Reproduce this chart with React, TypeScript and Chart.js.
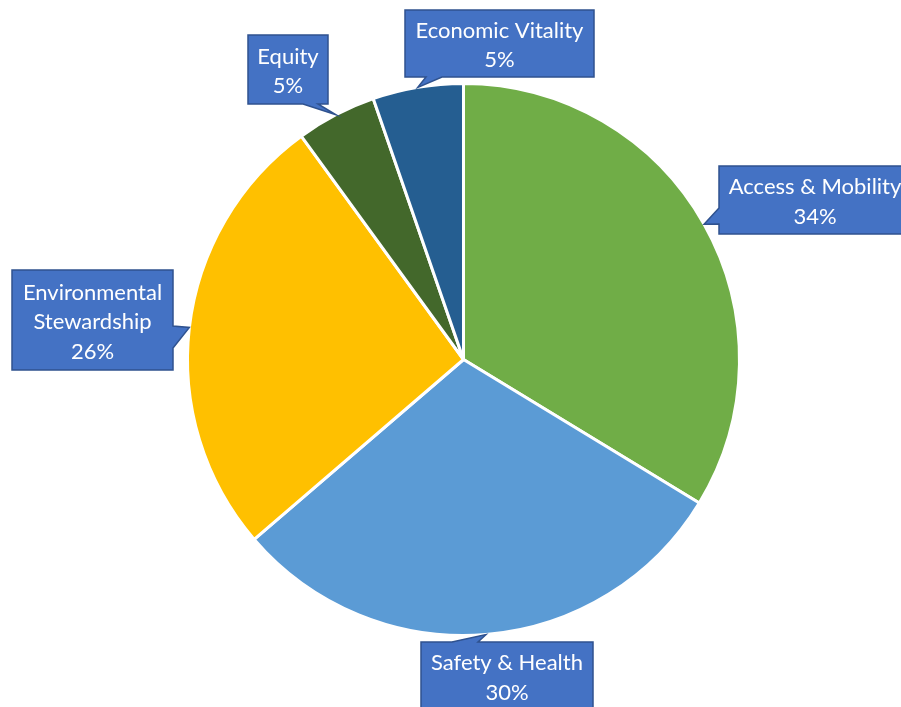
import React, { useEffect, useRef } from "react";
import { Chart, registerables } from "chart.js";

Chart.register(...registerables);

const categories = [
  "Access & Mobility",
  "Safety & Health",
  "Environmental Stewardship",
  "Equity",
  "Economic Vitality",
];
const shares = [33.7, 30.0, 26.3, 4.7, 5.3];
const sliceColors = ["#70AD47", "#5B9BD5", "#FFC000", "#43682B", "#255E91"];
const labelLines = [
  ["Access & Mobility"],
  ["Safety & Health"],
  ["Environmental", "Stewardship"],
  ["Equity"],
  ["Economic Vitality"],
];

// Callout layout: box [x, y, w, h] and pointer base on box edge [x1, y1, x2, y2]
const calloutBoxes = [
  [719, 166, 192, 68],
  [421, 642, 172, 68],
  [12, 270, 161, 100],
  [248, 35, 80, 69],
  [405, 10, 189, 67],
];
const pointerBases = [
  [719, 208, 719, 224],
  [452, 642, 478, 642],
  [173, 326, 173, 348],
  [303, 104, 318, 104],
  [426, 77, 442, 77],
];

const calloutPlugin = {
  id: "callouts",
  afterDatasetsDraw(chart: any) {
    const ctx = chart.ctx;
    const meta = chart.getDatasetMeta(0);
    meta.data.forEach((arc: any, i: number) => {
      const p = arc.getProps(["x", "y", "startAngle", "endAngle", "outerRadius"], true);
      const mid = (p.startAngle + p.endAngle) / 2;
      const tx = p.x + Math.cos(mid) * p.outerRadius;
      const ty = p.y + Math.sin(mid) * p.outerRadius;
      const [bx, by, bw, bh] = calloutBoxes[i];
      const [x1, y1, x2, y2] = pointerBases[i];
      ctx.save();
      ctx.fillStyle = "#4472C4";
      ctx.strokeStyle = "#2F528F";
      ctx.lineWidth = 1.5;
      ctx.lineJoin = "miter";
      ctx.beginPath();
      const L = bx, R = bx + bw, T = by, B = by + bh;
      const pts: number[][] = [];
      pts.push([L, T]);
      if (y1 === T && y2 === T) { pts.push([Math.min(x1, x2), T], [tx, ty], [Math.max(x1, x2), T]); }
      pts.push([R, T]);
      if (x1 === R && x2 === R) { pts.push([R, Math.min(y1, y2)], [tx, ty], [R, Math.max(y1, y2)]); }
      pts.push([R, B]);
      if (y1 === B && y2 === B) { pts.push([Math.max(x1, x2), B], [tx, ty], [Math.min(x1, x2), B]); }
      pts.push([L, B]);
      if (x1 === L && x2 === L) { pts.push([L, Math.max(y1, y2)], [tx, ty], [L, Math.min(y1, y2)]); }
      pts.forEach((pt, k) => (k === 0 ? ctx.moveTo(pt[0], pt[1]) : ctx.lineTo(pt[0], pt[1])));
      ctx.closePath();
      ctx.fill();
      ctx.stroke();
      const lines = [...labelLines[i], Math.round(shares[i]) + "%"];
      ctx.fillStyle = "#FFFFFF";
      ctx.font = "22px Lato, 'Open Sans', sans-serif";
      ctx.textAlign = "center";
      ctx.textBaseline = "middle";
      const lh = 29.5;
      const cx = bx + bw / 2;
      const cy = by + bh / 2 + 2;
      lines.forEach((t, k) => {
        ctx.fillText(t, cx, cy + (k - (lines.length - 1) / 2) * lh);
      });
      ctx.restore();
    });
  },
};

export default function App() {
  const ref = useRef<HTMLCanvasElement | null>(null);
  useEffect(() => {
    if (!ref.current) return;
    const chart = new Chart(ref.current, {
      type: "pie",
      data: {
        labels: categories,
        datasets: [
          {
            data: shares,
            backgroundColor: sliceColors,
            borderColor: "#FFFFFF",
            borderWidth: 3,
          },
        ],
      },
      options: {
        responsive: false,
        animation: false,
        layout: { padding: { left: 186, right: 160, top: 82, bottom: 70 } },
        plugins: {
          legend: { display: false },
          tooltip: { enabled: false },
        },
      },
      plugins: [calloutPlugin],
    });
    return () => chart.destroy();
  }, []);
  return (
    <div style={{ position: "absolute", left: 0, top: 0, width: 901, height: 707, background: "#fff" }}>
      <canvas ref={ref} width={901} height={707} style={{ width: 901, height: 707 }} />
    </div>
  );
}
